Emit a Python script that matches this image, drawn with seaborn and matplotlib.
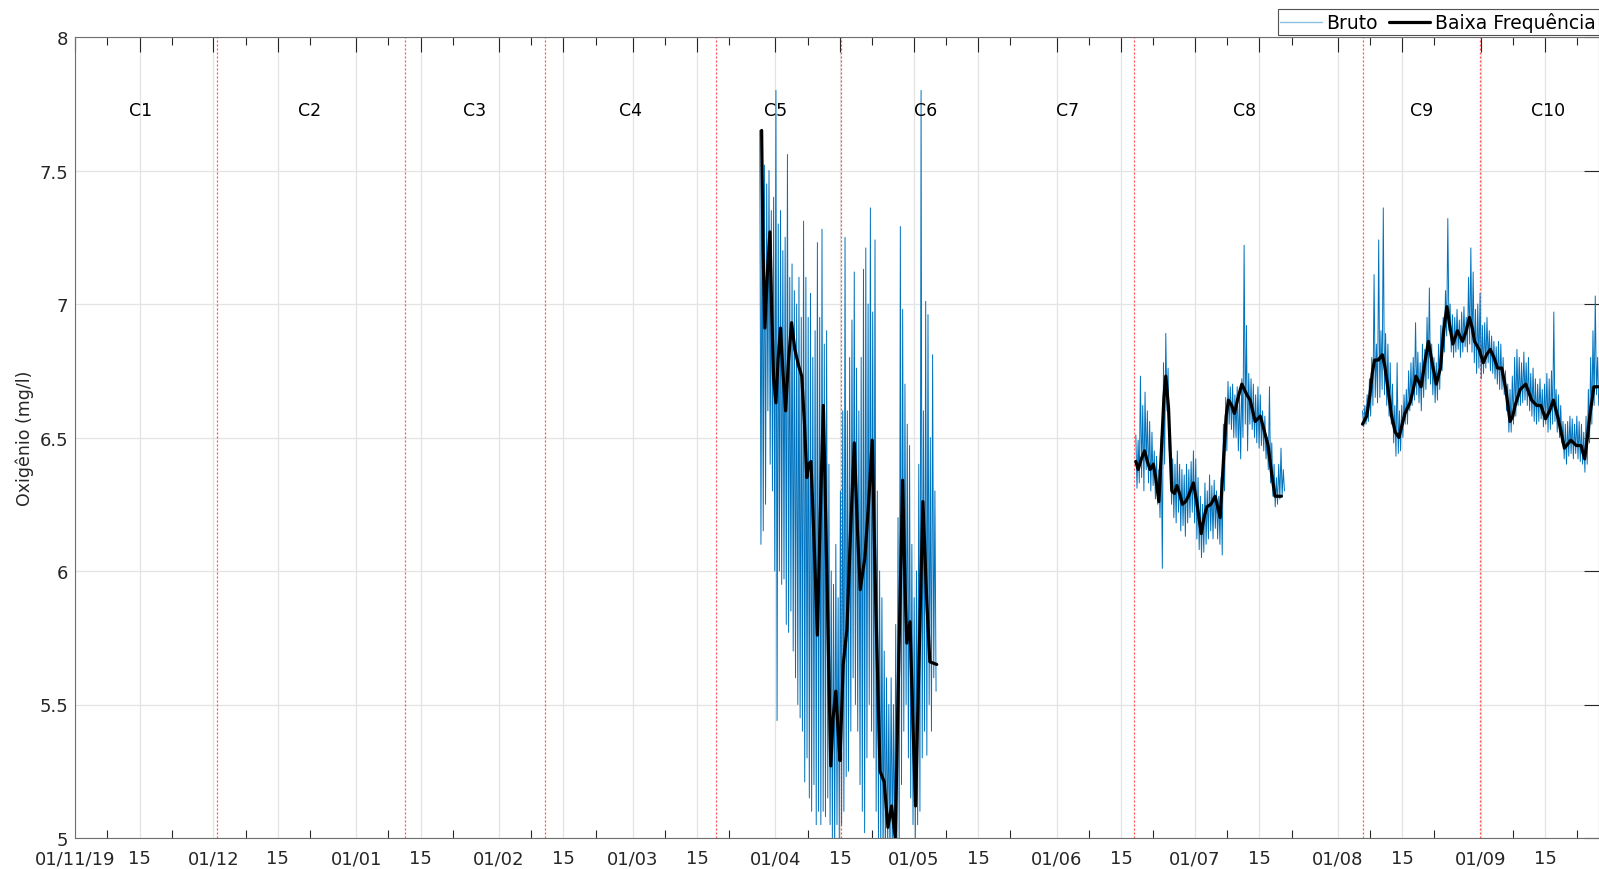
import numpy as np
import pandas as pd
import matplotlib
matplotlib.use("Agg")
import matplotlib.pyplot as plt
import matplotlib.dates as mdates
from matplotlib.lines import Line2D
from matplotlib.ticker import FixedLocator, FixedFormatter
import seaborn as sns

T0 = pd.Timestamp("2019-11-01")

# ---------------- raw dissolved-oxygen record (Bruto), mg/l ----------------
# each segment: start day (since 01/11/19), then high / low excursions every half day
raw_a_start = 148.6
raw_a_hi = [7.65, 7.50, 7.52, 7.45, 7.50, 7.35, 7.40, 7.80, 7.30, 7.35,
            7.20, 7.25, 7.56, 7.10, 7.15, 7.05, 7.00, 7.10, 6.95, 7.31,
            7.10, 6.95, 7.04, 6.80, 6.90, 7.23, 6.95, 7.28, 6.85, 6.90,
            6.40, 6.00, 5.95, 6.10, 5.90, 6.30, 6.60, 7.25, 6.60, 6.80,
            6.94, 7.12, 6.76, 6.60, 6.80, 7.13, 7.21, 7.00, 7.36, 6.97,
            7.24, 6.30, 6.00, 5.90, 5.70, 5.60, 5.50, 5.60, 5.50, 5.80,
            6.20, 7.29, 6.98, 6.70, 6.55, 6.47, 6.10, 5.90, 6.00, 6.40,
            7.80, 6.60, 7.01, 6.96, 6.50, 6.81, 6.30]
raw_a_lo = [6.10, 6.15, 6.25, 6.60, 6.40, 6.30, 6.00, 5.44, 6.00, 5.95,
            5.97, 5.80, 5.77, 5.85, 5.70, 5.60, 5.50, 5.45, 5.40, 5.21,
            5.30, 5.15, 5.10, 5.20, 5.05, 5.10, 5.05, 5.10, 5.08, 5.15,
            5.05, 5.00, 4.95, 5.05, 5.00, 5.05, 5.10, 5.23, 5.25, 5.40,
            5.60, 5.50, 5.40, 5.20, 5.10, 5.02, 5.30, 5.50, 5.40, 5.30,
            5.10, 5.00, 4.95, 4.90, 4.90, 4.95, 4.90, 4.95, 4.90, 4.95,
            4.95, 5.20, 5.40, 5.50, 5.30, 5.15, 5.05, 5.00, 5.05, 5.10,
            5.30, 5.40, 5.31, 5.50, 5.40, 5.60, 5.55]

raw_b_start = 230.2
raw_b_hi = [6.51, 6.49, 6.73, 6.62, 6.67, 6.60, 6.56, 6.52, 6.45, 6.43,
            6.38, 6.50, 6.78, 6.89, 6.76, 6.50, 6.42, 6.40, 6.45, 6.40,
            6.38, 6.36, 6.40, 6.38, 6.41, 6.45, 6.42, 6.35, 6.28, 6.25,
            6.33, 6.30, 6.36, 6.32, 6.34, 6.30, 6.28, 6.35, 6.55, 6.65,
            6.71, 6.69, 6.70, 6.66, 6.69, 6.66, 6.72, 7.22, 6.92, 6.74,
            6.72, 6.70, 6.66, 6.69, 6.66, 6.60, 6.58, 6.50, 6.69, 6.48,
            6.40, 6.35, 6.40, 6.46, 6.38]
raw_b_lo = [6.31, 6.33, 6.35, 6.30, 6.38, 6.33, 6.30, 6.32, 6.27, 6.25,
            6.20, 6.01, 6.40, 6.60, 6.45, 6.25, 6.20, 6.18, 6.22, 6.15,
            6.17, 6.13, 6.18, 6.20, 6.22, 6.18, 6.12, 6.08, 6.05, 6.07,
            6.10, 6.12, 6.15, 6.12, 6.16, 6.12, 6.10, 6.06, 6.30, 6.45,
            6.55, 6.53, 6.50, 6.50, 6.45, 6.42, 6.50, 6.55, 6.45, 6.55,
            6.53, 6.50, 6.48, 6.46, 6.47, 6.45, 6.42, 6.38, 6.33, 6.28,
            6.24, 6.25, 6.27, 6.28, 6.30]

raw_c_start = 279.4
raw_c_hi = [6.60, 6.62, 6.66, 6.72, 6.80, 7.11, 6.85, 7.24, 6.90, 7.36,
            6.89, 6.85, 6.78, 6.70, 6.62, 6.78, 6.60, 6.62, 6.66, 6.68,
            6.75, 6.78, 6.80, 6.93, 6.82, 6.78, 6.85, 6.83, 6.95, 7.06,
            6.85, 6.80, 6.78, 6.85, 6.92, 6.95, 7.05, 7.32, 7.00, 6.96,
            6.95, 6.98, 6.94, 6.97, 6.99, 6.95, 7.10, 7.21, 7.12, 6.98,
            7.00, 7.04, 6.92, 6.93, 6.95, 6.90, 6.88, 6.86, 6.84, 6.86,
            6.85, 6.80, 6.75, 6.70, 6.68, 6.73, 6.80, 6.83, 6.80, 6.78,
            6.82, 6.78, 6.80, 6.74, 6.76, 6.72, 6.70, 6.72, 6.68, 6.70,
            6.74, 6.72, 6.75, 6.97, 6.68, 6.66, 6.62, 6.56, 6.55, 6.56,
            6.58, 6.57, 6.55, 6.58, 6.56, 6.55, 6.52, 6.58, 6.68, 6.80,
            6.90, 7.03, 6.80]
raw_c_lo = [6.54, 6.55, 6.56, 6.58, 6.62, 6.65, 6.63, 6.65, 6.68, 6.66,
            6.62, 6.58, 6.55, 6.48, 6.43, 6.44, 6.45, 6.50, 6.55, 6.55,
            6.60, 6.62, 6.64, 6.66, 6.63, 6.60, 6.65, 6.68, 6.72, 6.70,
            6.66, 6.63, 6.64, 6.68, 6.75, 6.82, 6.88, 6.90, 6.82, 6.80,
            6.82, 6.83, 6.80, 6.82, 6.84, 6.82, 6.85, 6.82, 6.78, 6.74,
            6.76, 6.72, 6.74, 6.76, 6.78, 6.75, 6.74, 6.72, 6.70, 6.68,
            6.68, 6.66, 6.60, 6.52, 6.52, 6.55, 6.58, 6.62, 6.62, 6.63,
            6.64, 6.62, 6.60, 6.58, 6.56, 6.55, 6.56, 6.57, 6.54, 6.55,
            6.52, 6.53, 6.55, 6.56, 6.52, 6.50, 6.48, 6.42, 6.40, 6.43,
            6.44, 6.42, 6.44, 6.42, 6.41, 6.40, 6.37, 6.40, 6.48, 6.55,
            6.62, 6.66, 6.62]

# ---------------- low-pass filtered series (Baixa Frequência) ----------------
lp_a_day = [149.0, 149.3, 149.7, 150.2, 150.8, 151.2, 151.6, 152.1, 152.6, 153.1,
            153.6, 154.2, 154.8, 155.5, 156.2, 157.0, 157.7, 158.3, 158.8, 159.2,
            159.7, 160.4, 161.1, 161.7, 162.4, 163.2, 164.0, 164.5, 165.1, 165.6,
            166.0, 166.7, 167.5, 168.3, 169.1, 169.8, 170.4, 171.4, 172.2, 173.0,
            173.8, 174.7, 175.6, 176.4, 177.2, 178.0, 178.8, 179.6, 180.1, 180.5,
            181.2, 181.8, 182.4, 183.2, 184.0, 184.8, 185.5, 187.0]
lp_a_val = [7.65, 7.20, 6.91, 7.10, 7.27, 6.96, 6.72, 6.63, 6.80, 6.91,
            6.75, 6.60, 6.78, 6.93, 6.83, 6.77, 6.73, 6.55, 6.35, 6.40,
            6.41, 6.10, 5.76, 6.20, 6.62, 5.95, 5.27, 5.45, 5.55, 5.40,
            5.29, 5.65, 5.78, 6.15, 6.48, 6.15, 5.93, 6.05, 6.25, 6.49,
            5.85, 5.25, 5.21, 5.04, 5.12, 5.00, 5.70, 6.34, 5.95, 5.73,
            5.81, 5.45, 5.12, 5.70, 6.26, 5.90, 5.66, 5.65]

lp_b_day = [230.2, 230.7, 231.4, 232.1, 232.7, 233.3, 234.0, 234.5, 235.2, 235.8,
            236.3, 236.7, 237.3, 238.0, 238.6, 239.1, 239.7, 240.3, 241.0, 241.6,
            242.7, 243.4, 244.4, 245.0, 245.6, 246.5, 247.4, 248.5, 249.2, 249.8,
            250.3, 251.0, 251.6, 252.4, 253.2, 254.3, 255.0, 256.1, 257.2, 258.0,
            258.9, 259.7, 260.4, 261.8]
lp_b_val = [6.41, 6.38, 6.42, 6.45, 6.41, 6.38, 6.40, 6.35, 6.26, 6.47,
            6.65, 6.73, 6.61, 6.30, 6.29, 6.32, 6.29, 6.25, 6.26, 6.28,
            6.33, 6.26, 6.14, 6.20, 6.24, 6.25, 6.28, 6.20, 6.41, 6.58,
            6.64, 6.62, 6.59, 6.65, 6.70, 6.66, 6.64, 6.56, 6.58, 6.53,
            6.47, 6.36, 6.28, 6.28]

lp_c_day = [279.4, 280.3, 281.0, 281.5, 282.0, 282.8, 283.7, 284.2, 284.7, 285.7,
            286.5, 287.3, 288.0, 288.6, 289.7, 290.4, 291.0, 292.1, 292.9, 293.7,
            294.5, 295.4, 296.3, 297.0, 297.7, 298.3, 299.0, 300.0, 301.1, 301.9,
            302.6, 303.2, 303.7, 304.7, 305.6, 306.3, 307.1, 307.9, 308.7, 309.6,
            310.5, 311.4, 312.0, 312.5, 313.6, 314.8, 316.1, 317.2, 318.1, 319.1,
            320.0, 320.8, 322.0, 323.2, 324.6, 325.8, 326.8, 327.6, 328.2, 328.7,
            329.6, 330.7]
lp_c_val = [6.55, 6.58, 6.66, 6.74, 6.79, 6.79, 6.81, 6.77, 6.71, 6.58,
            6.52, 6.50, 6.55, 6.59, 6.63, 6.68, 6.73, 6.69, 6.78, 6.86,
            6.78, 6.70, 6.76, 6.90, 6.99, 6.92, 6.85, 6.90, 6.86, 6.90,
            6.95, 6.91, 6.86, 6.83, 6.78, 6.81, 6.83, 6.80, 6.76, 6.76,
            6.68, 6.56, 6.58, 6.62, 6.68, 6.70, 6.64, 6.62, 6.62, 6.57,
            6.60, 6.64, 6.56, 6.46, 6.49, 6.47, 6.47, 6.42, 6.50, 6.58,
            6.69, 6.69]

# campaign boundaries and labels (days since 01/11/19)
campaign_bounds = [30.8, 71.7, 101.9, 139.0, 166.2, 229.8, 279.6, 304.8]
campaign_names = ["C1", "C2", "C3", "C4", "C5", "C6", "C7", "C8", "C9", "C10"]
campaign_mid = [14.3, 51.0, 86.8, 120.5, 152.1, 184.5, 215.4, 253.7, 292.2, 319.7]

x_end_day = 330.6
y_ticks = [5, 5.5, 6, 6.5, 7, 7.5, 8]
y_ticklabels = ["5", "5.5", "6", "6.5", "7", "7.5", "8"]


def to_time(days):
    return T0 + pd.to_timedelta(np.asarray(days, dtype=float), unit="D")


def raw_frame(seg, start, hi, lo):
    n = min(len(hi), len(lo))
    t = np.empty(2 * n)
    v = np.empty(2 * n)
    t[0::2] = start + 0.5 * np.arange(n)
    t[1::2] = t[0::2] + 0.25
    v[0::2] = hi[:n]
    v[1::2] = lo[:n]
    return pd.DataFrame({"time": to_time(t), "val": v, "seg": seg})


raw = pd.concat([
    raw_frame("a", raw_a_start, raw_a_hi, raw_a_lo),
    raw_frame("b", raw_b_start, raw_b_hi, raw_b_lo),
    raw_frame("c", raw_c_start, raw_c_hi, raw_c_lo),
], ignore_index=True)

low = pd.concat([
    pd.DataFrame({"time": to_time(lp_a_day), "val": lp_a_val, "seg": "a"}),
    pd.DataFrame({"time": to_time(lp_b_day), "val": lp_b_val, "seg": "b"}),
    pd.DataFrame({"time": to_time(lp_c_day), "val": lp_c_val, "seg": "c"}),
], ignore_index=True)

sns.set_style("white")
plt.rcParams["font.family"] = ["DejaVu Sans"]
TXT = "#262626"

W, H = 1599, 870
fig = plt.figure(figsize=(W / 100, H / 100), dpi=100)
ax = fig.add_axes([75 / W, 31 / H, 1523.5 / W, 801 / H])

BLUE = "#0072BD"
sns.lineplot(data=raw, x="time", y="val", units="seg", estimator=None, sort=False,
             color=BLUE, linewidth=0.7, ax=ax, legend=False)
sns.lineplot(data=low, x="time", y="val", units="seg", estimator=None, sort=False,
             color="black", linewidth=2.3, ax=ax, legend=False)
for ln in ax.get_lines()[-3:]:
    ln.set_solid_joinstyle("round")

for d in campaign_bounds:
    ax.axvline(to_time([d])[0], color="#ff3333", linestyle=(0, (1.6, 1.6)),
               linewidth=0.9, alpha=0.85, zorder=1)

for name, d in zip(campaign_names, campaign_mid):
    ax.text(to_time([d])[0], 7.725, name, ha="center", va="center",
            fontsize=12.5, color="black")

# axes limits & ticks
ax.set_xlim(to_time([0])[0], to_time([x_end_day])[0])
ax.set_ylim(5, 8)

end_time = to_time([x_end_day])[0]
all_days = pd.date_range("2019-11-01", "2020-09-30", freq="D")
major_dates = [d for d in all_days if d.day in (1, 15) and d <= end_time]
minor_dates = [d for d in all_days if d.day in (8, 22) and d <= end_time]
major_labels = []
for i, d in enumerate(major_dates):
    if i == 0:
        major_labels.append(d.strftime("%d/%m/%y"))
    elif d.day == 15:
        major_labels.append("15")
    else:
        major_labels.append(d.strftime("%d/%m"))

ax.xaxis.set_major_locator(FixedLocator(mdates.date2num(major_dates)))
ax.xaxis.set_major_formatter(FixedFormatter(major_labels))
ax.xaxis.set_minor_locator(FixedLocator(mdates.date2num(minor_dates)))
ax.set_yticks(y_ticks)
ax.set_yticklabels(y_ticklabels)

ax.tick_params(axis="both", which="major", direction="in", length=10.5, width=0.8,
               color=TXT, labelcolor=TXT, labelsize=13, top=True, right=True)
ax.tick_params(axis="x", which="major", pad=8)
ax.tick_params(axis="y", which="major", pad=5)
ax.tick_params(axis="x", which="minor", direction="in", length=5.5, width=0.8,
               color=TXT, top=True, bottom=True)

ax.grid(True, which="major", color="#e3e3e3", linewidth=0.9)
ax.set_axisbelow(True)
for s in ax.spines.values():
    s.set_color("#6e6e6e")
    s.set_linewidth(0.8)

ax.set_xlabel("")
ax.set_ylabel("Oxigênio (mg/l)", fontsize=12.5, color=TXT)
ax.yaxis.set_label_coords(-0.027, 0.5)

handles = [Line2D([], [], color=BLUE, linewidth=1.0, alpha=0.45),
           Line2D([], [], color="black", linewidth=2.3)]
leg = fig.legend(handles, ["Bruto", "Baixa Frequência"], loc="lower right",
                 bbox_to_anchor=(1598.5 / W, (H - 36) / H), ncol=2, frameon=True,
                 fancybox=False, fontsize=13.5, handlelength=2.2, handletextpad=0.25,
                 columnspacing=0.6, borderpad=0.15, borderaxespad=0)
leg.get_frame().set_edgecolor(TXT)
leg.get_frame().set_linewidth(0.8)
for t in leg.get_texts():
    t.set_color("black")

fig.savefig("out.png", dpi=100)
